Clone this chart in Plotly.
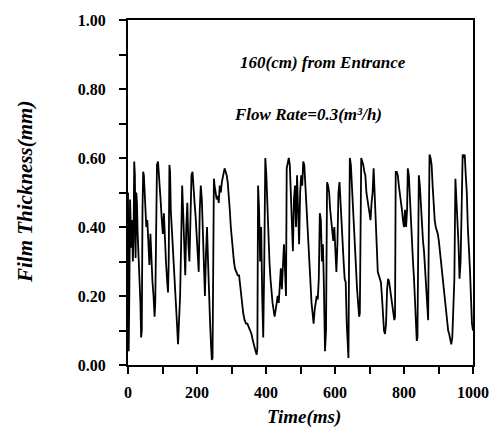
import plotly.graph_objects as go

# ---- data ----
time_ms = [
    0, 2, 4, 6, 8, 10, 12, 14, 16, 18, 20, 22, 24, 26, 28, 30, 32, 34, 36, 38,
    40, 42, 44, 46, 48, 50, 53, 56, 59, 62, 65, 68, 71, 74, 77, 79, 81, 84, 87, 89,
    92, 95, 98, 101, 104, 107, 110, 113, 116, 118, 120, 122, 124, 127, 130, 133, 136, 139, 142, 145,
    148, 151, 154, 157, 160, 163, 166, 169, 172, 175, 178, 181, 184, 187, 190, 193, 196, 199, 202, 205,
    208, 211, 214, 217, 220, 223, 226, 229, 232, 235, 238, 241, 243, 245, 247, 249,
    251, 254, 257, 260, 263, 266, 269, 272, 276, 280, 283, 286, 289, 292, 295, 298, 301, 304, 307, 310,
    314, 318, 322, 326, 330, 334, 338, 342, 346, 350, 354, 358, 362, 366, 370, 373, 375, 377, 380, 383,
    386, 389, 392, 395, 398, 401, 404, 407, 410, 413, 416, 419, 422, 425, 428, 431, 434, 437, 440, 443,
    446, 449, 452, 455, 458, 460, 463, 466, 469, 472, 475, 478, 481, 484, 487,
    490, 493, 496, 499, 502, 505, 508, 511, 514, 517, 520, 523, 526, 529, 532, 535, 538, 541, 544, 547,
    550, 553, 556, 559, 562, 565, 568, 571, 574, 577, 580, 583, 586, 589, 592, 595, 598, 601, 604, 607,
    610, 613, 616, 619, 622, 625, 628, 631, 634, 637, 639, 641, 643, 646, 649, 652, 655, 658, 661, 664,
    667, 670, 672, 674, 676, 679, 682, 685, 688, 691, 694, 697, 700, 703, 706, 709, 712, 715, 718, 721,
    724, 727, 730, 733, 736, 739, 742, 745,
    748, 751, 754, 757, 760, 763, 766, 769, 772, 774, 776, 779, 782, 785, 788, 791, 794, 797, 800, 803,
    806, 809, 811, 814, 817, 820, 823, 826, 829, 832, 835, 837, 839, 841, 843, 846, 849, 852, 855, 858,
    861, 864, 867, 870, 872, 874, 877, 880, 883, 886, 889, 892, 895, 898, 901, 904, 907, 910, 913, 916,
    919, 922, 925, 928, 931, 934, 937, 940, 943, 946, 949, 952, 955, 958, 961, 964, 967, 970, 973, 976,
    979, 982, 985, 988, 991, 994, 997, 1000,
]
thickness_mm = [
    0.50, 0.04, 0.22, 0.48, 0.40, 0.34, 0.42, 0.30, 0.36, 0.59, 0.55, 0.31, 0.50, 0.47, 0.38, 0.33, 0.30, 0.25, 0.18, 0.08,
    0.10, 0.45, 0.56, 0.55, 0.50, 0.48, 0.40, 0.42, 0.35, 0.29, 0.38, 0.30, 0.24, 0.20, 0.14, 0.18, 0.45, 0.58, 0.59, 0.55,
    0.50, 0.47, 0.42, 0.38, 0.44, 0.35, 0.30, 0.25, 0.21, 0.30, 0.58, 0.56, 0.45, 0.40, 0.32, 0.28, 0.22, 0.18, 0.12, 0.06,
    0.12, 0.20, 0.35, 0.52, 0.44, 0.30, 0.26, 0.40, 0.47, 0.35, 0.30, 0.42, 0.55, 0.56, 0.50, 0.47, 0.43, 0.38, 0.30, 0.27,
    0.45, 0.52, 0.48, 0.36, 0.25, 0.20, 0.32, 0.40, 0.30, 0.19, 0.12, 0.05, 0.015, 0.02, 0.30, 0.54,
    0.52, 0.50, 0.48, 0.49, 0.47, 0.52, 0.50, 0.53, 0.55, 0.57, 0.56, 0.55, 0.53, 0.50, 0.45, 0.40, 0.36, 0.33, 0.30, 0.28,
    0.27, 0.26, 0.26, 0.22, 0.18, 0.15, 0.13, 0.12, 0.12, 0.11, 0.10, 0.09, 0.07, 0.05, 0.04, 0.03, 0.05, 0.52, 0.45, 0.30,
    0.40, 0.20, 0.08, 0.30, 0.60, 0.55, 0.45, 0.36, 0.30, 0.25, 0.21, 0.18, 0.16, 0.14, 0.16, 0.19, 0.20, 0.18, 0.24, 0.28,
    0.22, 0.30, 0.35, 0.28, 0.20, 0.57, 0.59, 0.60, 0.58, 0.50, 0.40, 0.33, 0.48, 0.52, 0.40,
    0.55, 0.45, 0.35, 0.50, 0.55, 0.52, 0.59, 0.58, 0.52, 0.48, 0.42, 0.38, 0.30, 0.22, 0.18, 0.15, 0.12, 0.16, 0.18, 0.20,
    0.19, 0.25, 0.44, 0.42, 0.30, 0.35, 0.22, 0.04, 0.10, 0.53, 0.52, 0.50, 0.45, 0.42, 0.40, 0.36, 0.40, 0.32, 0.27, 0.35,
    0.50, 0.53, 0.46, 0.40, 0.36, 0.30, 0.25, 0.24, 0.12, 0.03, 0.02, 0.35, 0.60, 0.58, 0.52, 0.45, 0.40, 0.33, 0.25, 0.22,
    0.18, 0.14, 0.15, 0.40, 0.60, 0.59, 0.58, 0.56, 0.55, 0.50, 0.47, 0.46, 0.44, 0.42, 0.47, 0.50, 0.57, 0.50, 0.40, 0.33,
    0.27, 0.26, 0.25, 0.24, 0.20, 0.13, 0.10, 0.09,
    0.12, 0.22, 0.25, 0.24, 0.22, 0.20, 0.17, 0.15, 0.13, 0.14, 0.56, 0.56, 0.55, 0.52, 0.50, 0.48, 0.45, 0.42, 0.40, 0.45,
    0.40, 0.45, 0.57, 0.55, 0.48, 0.40, 0.35, 0.30, 0.25, 0.18, 0.10, 0.07, 0.08, 0.35, 0.55, 0.52, 0.45, 0.40, 0.36, 0.33,
    0.28, 0.22, 0.18, 0.13, 0.40, 0.61, 0.60, 0.58, 0.52, 0.46, 0.42, 0.40, 0.39, 0.38, 0.36, 0.33, 0.30, 0.27, 0.24, 0.20,
    0.17, 0.14, 0.12, 0.10, 0.09, 0.07, 0.06, 0.08, 0.15, 0.25, 0.54, 0.48, 0.40, 0.35, 0.25, 0.30, 0.45, 0.61, 0.60, 0.61,
    0.55, 0.50, 0.40, 0.35, 0.28, 0.20, 0.12, 0.10,
]

x_tick_values = [0, 100, 200, 300, 400, 500, 600, 700, 800, 900, 1000]
x_tick_labels = ["0", "", "200", "", "400", "", "600", "", "800", "", "1000"]
y_tick_values = [0.0, 0.1, 0.2, 0.3, 0.4, 0.5, 0.6, 0.7, 0.8, 0.9, 1.0]
y_tick_labels = ["0.00", "", "0.20", "", "0.40", "", "0.60", "", "0.80", "", "1.00"]

label_position = "160(cm) from Entrance"
label_flow = "Flow Rate=0.3(m³/h)"
x_title = "Time(ms)"
y_title = "Film Thickness(mm)"

SERIF = "Liberation Serif, Times New Roman, serif"

fig = go.Figure()
fig.add_trace(go.Scatter(
    x=time_ms, y=thickness_mm, mode="lines",
    line=dict(color="black", width=1.8),
    showlegend=False, hoverinfo="skip",
))

axis_common = dict(
    showgrid=False, zeroline=False, showline=True, linecolor="black", linewidth=2,
    mirror=True, ticks="outside", tickcolor="black", tickwidth=2, ticklen=7,
    tickfont=dict(family=SERIF, size=16, color="black", weight="bold"),
)

fig.update_xaxes(
    range=[0, 1000], tickmode="array", tickvals=x_tick_values, ticktext=x_tick_labels,
    ticklabelstandoff=5, **axis_common,
)
fig.update_yaxes(
    range=[0, 1.0], tickmode="array", tickvals=y_tick_values, ticktext=y_tick_labels,
    ticklabelstandoff=10, **axis_common,
)

bi_font = dict(family=SERIF, size=17, color="black", weight="bold", style="italic")

fig.add_annotation(x=566, y=0.877, xref="x", yref="y", text=label_position,
                   showarrow=False, font=bi_font)
fig.add_annotation(x=523, y=0.725, xref="x", yref="y", text=label_flow,
                   showarrow=False, font=bi_font)
fig.add_annotation(x=0.51, y=-0.152, xref="paper", yref="paper", text=x_title,
                   showarrow=False, font=dict(bi_font, size=19), yanchor="middle")
fig.add_annotation(x=-0.30, y=0.5, xref="paper", yref="paper", text=y_title,
                   textangle=-90, showarrow=False, font=dict(bi_font, size=21),
                   xanchor="center")

fig.update_layout(
    width=501, height=428,
    margin=dict(l=128, r=24, t=15, b=63),
    paper_bgcolor="white", plot_bgcolor="white",
)

fig.write_html(
    "out.html",
    config={"displayModeBar": False, "staticPlot": True},
    post_script="document.body.style.margin='0';document.body.style.overflow='hidden';",
)
